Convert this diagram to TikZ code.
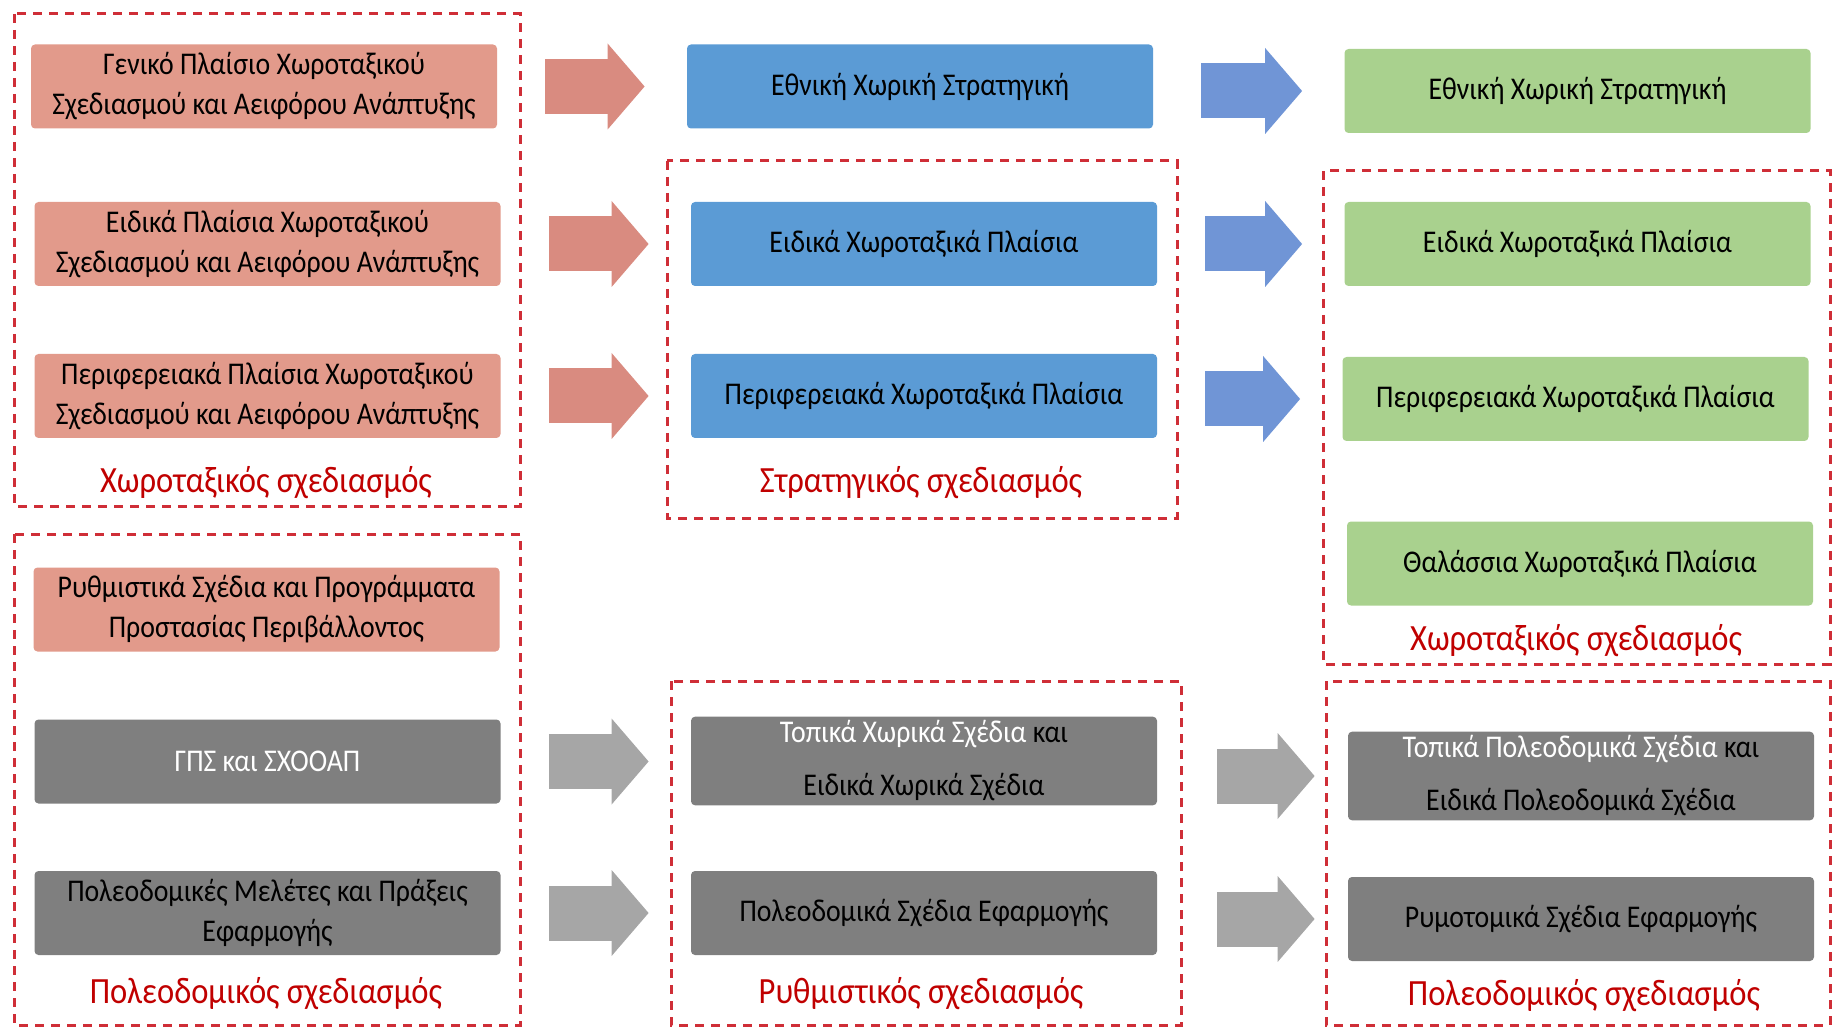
\documentclass[tikz,border=0pt]{standalone}
\usepackage{fontspec}
\setmainfont{Carlito}[FakeStretch=0.88]
\usetikzlibrary{arrows.meta,positioning}
\definecolor{salmon}{HTML}{E29A8B}
\definecolor{salmonarrow}{HTML}{D98B80}
\definecolor{skyblue}{HTML}{5B9BD5}
\definecolor{bluearrow}{HTML}{7095D6}
\definecolor{leaf}{HTML}{A9D18E}
\definecolor{stone}{HTML}{7F7F7F}
\definecolor{stonearrow}{HTML}{A6A6A6}
\definecolor{zonered}{HTML}{CF2E37}
\definecolor{labelred}{HTML}{C00000}
\tikzset{
  base/.style={rounded corners=2pt,minimum width=233pt,minimum height=42pt,inner sep=2pt,align=center,text=black,font=\fontsize{15.8}{20}\selectfont},
  planbox/.style={base,fill=salmon},
  stratbox/.style={base,fill=skyblue},
  natbox/.style={base,fill=leaf},
  urbanbox/.style={base,fill=stone},
  widelines/.style={font=\fontsize{15.8}{26.5}\selectfont},
  zone/.style={draw=zonered,line width=1.5pt,dash pattern=on 4.5pt off 3.5pt},
  caption/.style={text=labelred,font=\fontsize{18.5}{20}\selectfont},
  bigflow/.style={line width=27.5pt,-{Triangle[length=18.5pt,width=43pt,line width=0pt]},shorten <=24pt,shorten >=21pt},
  redflow/.style={bigflow,draw=salmonarrow},
  blueflow/.style={bigflow,draw=bluearrow},
  grayflow/.style={bigflow,draw=stonearrow}
}
\begin{document}
\begin{tikzpicture}[x=0.5pt,y=-0.5pt]
\useasboundingbox (0,0) rectangle (1833,1027);

\draw[zone] (14,14) rectangle (520,506);
\draw[zone] (14,534) rectangle (520,1025);
\draw[zone] (667,161) rectangle (1177,518);
\draw[zone] (671,681) rectangle (1181,1025);
\draw[zone] (1323,171) rectangle (1830,664);
\draw[zone] (1326,681) rectangle (1830,1025);

\node[planbox] (gp) at (264,86.5) {Γενικό Πλαίσιο Χωροταξικού\\Σχεδιασμού και Αειφόρου Ανάπτυξης};
\node[planbox] (ep) at (267.5,244) {Ειδικά Πλαίσια Χωροταξικού\\Σχεδιασμού και Αειφόρου Ανάπτυξης};
\node[planbox] (pp) at (267.5,396) {Περιφερειακά Πλαίσια Χωροταξικού\\Σχεδιασμού και Αειφόρου Ανάπτυξης};
\node[caption] (chl) at (266,483) {Χωροταξικός σχεδιασμός};

\node[planbox] (rsp) at (266.5,609.5) {Ρυθμιστικά Σχέδια και Προγράμματα\\Προστασίας Περιβάλλοντος};
\node[urbanbox,text=white] (gps) at (267.5,761.5) {ΓΠΣ και ΣΧΟΟΑΠ};
\node[urbanbox] (pmp) at (267.5,913) {Πολεοδομικές Μελέτες και Πράξεις\\Εφαρμογής};
\node[caption] (pol) at (266,994) {Πολεοδομικός σχεδιασμός};

\node[stratbox] (exs) at (920,86.5) {Εθνική Χωρική Στρατηγική};
\node[stratbox] (ekp) at (924,244) {Ειδικά Χωροταξικά Πλαίσια};
\node[stratbox] (pkp) at (924,396) {Περιφερειακά Χωροταξικά Πλαίσια};
\node[caption] (str) at (921,483) {Στρατηγικός σχεδιασμός};

\node[urbanbox,widelines] (tcs) at (924,761) {{\color{white}Τοπικά Χωρικά Σχέδια} και\\Ειδικά Χωρικά Σχέδια};
\node[urbanbox] (pse) at (924,913) {Πολεοδομικά Σχέδια Εφαρμογής};
\node[caption] (rythm) at (921,994) {Ρυθμιστικός σχεδιασμός};

\node[natbox] (nexs) at (1577.5,91) {Εθνική Χωρική Στρατηγική};
\node[natbox] (nekp) at (1577.5,244) {Ειδικά Χωροταξικά Πλαίσια};
\node[natbox] (npkp) at (1575.5,399) {Περιφερειακά Χωροταξικά Πλαίσια};
\node[natbox] (thkp) at (1580,563.5) {Θαλάσσια Χωροταξικά Πλαίσια};
\node[caption] (chr) at (1576,641) {Χωροταξικός σχεδιασμός};

\node[urbanbox,widelines] (tps) at (1581,776) {{\color{white}Τοπικά Πολεοδομικά Σχέδια} και\\Ειδικά Πολεοδομικά Σχέδια};
\node[urbanbox] (rse) at (1581,919) {Ρυμοτομικά Σχέδια Εφαρμογής};
\node[caption] (por) at (1584,996) {Πολεοδομικός σχεδιασμός};

\draw[redflow] (gp.east) -- (gp.east -| exs.west);
\draw[redflow] (ep.east) -- (ep.east -| ekp.west);
\draw[redflow] (pp.east) -- (pp.east -| pkp.west);
\draw[grayflow] (gps.east) -- (gps.east -| tcs.west);
\draw[grayflow] (pmp.east) -- (pmp.east -| pse.west);

\draw[blueflow] (exs.east |- nexs) -- (nexs.west);
\draw[blueflow] (ekp.east |- nekp) -- (nekp.west);
\draw[blueflow] (pkp.east |- npkp) -- (npkp.west);
\draw[grayflow,shorten <=30pt,shorten >=16.5pt] (tcs.east |- tps) -- (tps.west);
\draw[grayflow,shorten <=30pt,shorten >=16.5pt] (pse.east |- rse) -- (rse.west);
\end{tikzpicture}
\end{document}
